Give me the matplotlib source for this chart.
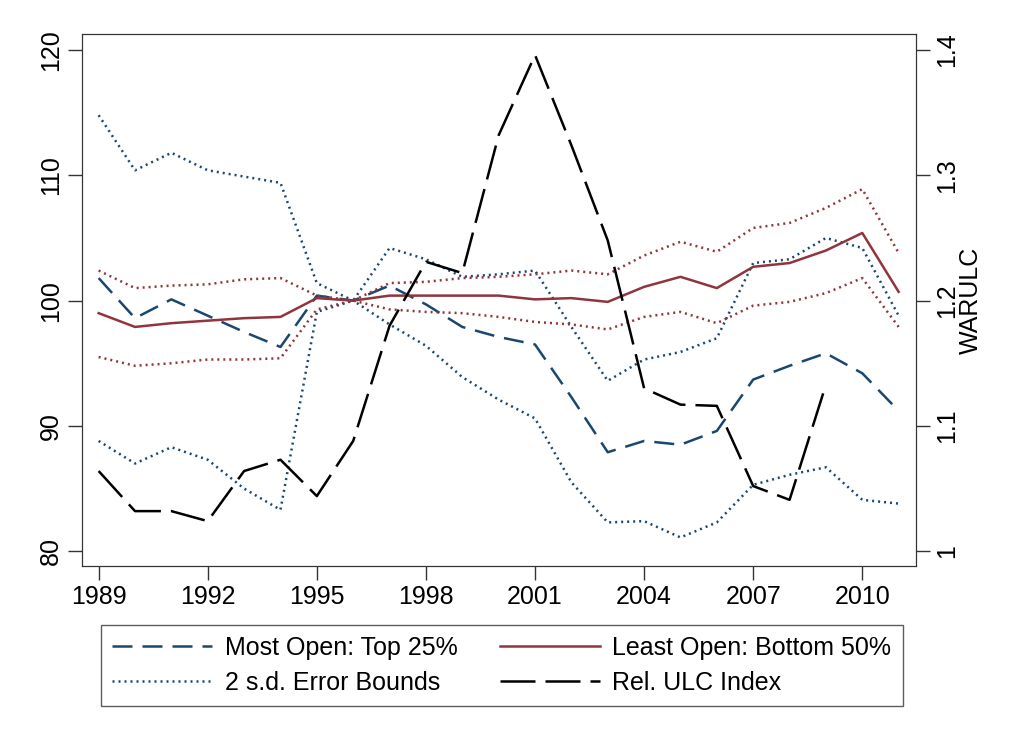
import numpy as np
import matplotlib
matplotlib.use("Agg")
import matplotlib.pyplot as plt

plt.rcParams['font.family'] = ['Liberation Sans', 'DejaVu Sans']

years = list(range(1989, 2012))

# Most open countries: top 25%
most_open = [101.8, 98.6, 100.1, 98.8, 97.5, 96.3, 100.4, 100.0, 101.2, 99.7, 97.9, 97.1,
             96.5, 92.3, 87.9, 88.8, 88.5, 89.6, 93.7, 94.8, 95.8, 94.2, 91.2]
most_open_hi = [114.8, 110.4, 111.8, 110.4, 109.9, 109.4, 101.4, 100.0, 98.1, 96.4, 93.9, 92.1,
                90.6, 85.5, 82.3, 82.4, 81.1, 82.3, 85.3, 86.1, 86.7, 84.1, 83.8]
most_open_lo = [88.8, 87.0, 88.3, 87.3, 85.0, 83.3, 99.1, 100.0, 104.2, 103.3, 101.9, 102.1,
                102.4, 97.9, 93.6, 95.3, 95.9, 97.0, 103.0, 103.3, 105.0, 104.2, 98.8]

# Least open countries: bottom 50%
least_open = [99.0, 97.9, 98.2, 98.4, 98.6, 98.7, 100.2, 100.0, 100.4, 100.4, 100.4, 100.4,
              100.1, 100.2, 99.9, 101.1, 101.9, 101.0, 102.7, 103.0, 104.0, 105.4, 100.7]
least_open_hi = [102.4, 101.0, 101.2, 101.3, 101.7, 101.8, 100.4, 100.0, 101.4, 101.5, 101.8, 101.9,
                 102.1, 102.4, 102.1, 103.6, 104.7, 103.9, 105.8, 106.2, 107.4, 108.9, 103.8]
least_open_lo = [95.5, 94.8, 95.0, 95.3, 95.3, 95.4, 99.3, 100.0, 99.3, 99.1, 99.0, 98.7,
                 98.3, 98.1, 97.7, 98.7, 99.1, 98.2, 99.6, 99.9, 100.6, 101.8, 97.9]

# Relative ULC index (right axis), ends 2009
ulc_years = list(range(1989, 2010))
ulc = [1.064, 1.032, 1.032, 1.024, 1.064, 1.073, 1.044, 1.088, 1.180, 1.231, 1.222, 1.332,
       1.396, 1.324, 1.248, 1.130, 1.117, 1.116, 1.052, 1.041, 1.133]

navy = '#1a476f'
maroon = '#90353b'

fig = plt.figure(figsize=(10.24, 7.5), dpi=100)
ax = fig.add_axes([0.080, 0.245, 0.815, 0.710])
ax2 = ax.twinx()

l1, = ax.plot(years, most_open, color=navy, lw=1.8, dashes=(8, 4), label='Most Open: Top 25%')
l3, = ax.plot(years, most_open_hi, color=navy, lw=1.8, dashes=(0.8, 1.6), label='2 s.d. Error Bounds')
ax.plot(years, most_open_lo, color=navy, lw=1.8, dashes=(0.8, 1.6))
l2, = ax.plot(years, least_open, color=maroon, lw=1.8, label='Least Open: Bottom 50%')
ax.plot(years, least_open_hi, color=maroon, lw=1.8, dashes=(0.8, 1.6))
ax.plot(years, least_open_lo, color=maroon, lw=1.8, dashes=(0.8, 1.6))
l4, = ax2.plot(ulc_years, ulc, color='black', lw=1.8, dashes=(14, 4), label='Rel. ULC Index')

ax.set_xlim(1988.54, 2011.49)
ax.set_ylim(78.8, 121.3)
ax2.set_ylim(0.988, 1.413)

ax.set_xticks([1989, 1992, 1995, 1998, 2001, 2004, 2007, 2010])
ax.set_yticks([80, 90, 100, 110, 120])
ax2.set_yticks([1.0, 1.1, 1.2, 1.3, 1.4])
ax2.set_yticklabels(['1', '1.1', '1.2', '1.3', '1.4'])

for a in (ax, ax2):
    a.tick_params(length=10, width=1, labelsize=18, direction='out', color='#333333')
    for s in a.spines.values():
        s.set_color('#333333')
ax.tick_params(axis='y', labelrotation=90)
ax2.tick_params(axis='y', labelrotation=90)
for t in ax.get_yticklabels():
    t.set_va('center')
for t in ax2.get_yticklabels():
    t.set_va('center')
ax2.set_ylabel('WARULC', fontsize=18, labelpad=0)

# column-major order: col 1 = l1, l3 ; col 2 = l2, l4
handles = [l1, l3, l2, l4]
leg = fig.legend(handles, [h.get_label() for h in handles],
                 ncol=2, loc='center', bbox_to_anchor=(0.49, 0.1127),
                 fontsize=18, frameon=True, fancybox=False,
                 handlelength=4.0, handletextpad=0.5, columnspacing=1.7,
                 borderpad=0.45, labelspacing=0.45, borderaxespad=0)
leg.get_frame().set_edgecolor('#333333')
leg.get_frame().set_linewidth(1.0)

fig.savefig('out.png', dpi=100)
